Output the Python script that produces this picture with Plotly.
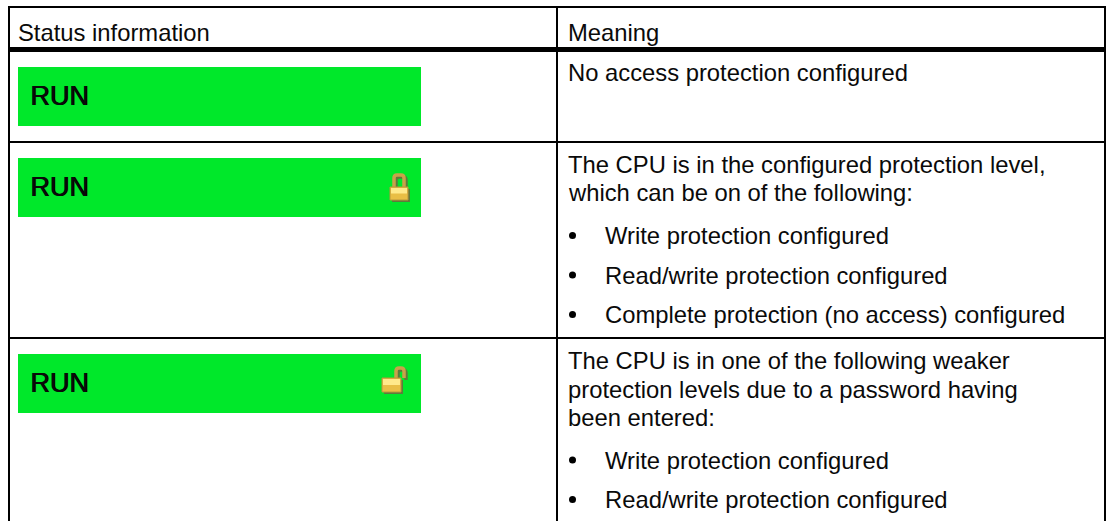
import plotly.graph_objects as go

# ---- content ----
headers = ["Status information", "Meaning"]
status_labels = ["RUN", "RUN", "RUN"]
meaning_lines = [
    "No access protection configured",
    "The CPU is in the configured protection level,",
    "which can be on of the following:",
    "The CPU is in one of the following weaker",
    "protection levels due to a password having",
    "been entered:",
]
bullet_lines = [
    "Write protection configured",
    "Read/write protection configured",
    "Complete protection (no access) configured",
    "Write protection configured",
    "Read/write protection configured",
]

# ---- layout of the table, in image pixels ----
W, H = 1106, 521
GREEN = "#00E82A"
FONT = "Liberation Sans"
BODY = 23.8
left, mid, right = 9, 557, 1105
top, head, row1, row2 = 7, 49.5, 142, 338
green_x = (18, 421)
green_y = [(67, 126), (158, 217), (354, 413)]
run_y = [95.5, 186.5, 382.5]
meaning_y = [72.5, 164.5, 192.5, 360.5, 389.5, 417.5]
bullet_y = [235.5, 275, 314.5, 460, 499.5]
meaning_x, bullet_x, bullet_text_x = 567.5, 572.5, 605

shapes = []


def line(x0, y0, x1, y1, w):
    shapes.append(dict(type="line", x0=x0, y0=y0, x1=x1, y1=y1,
                       line=dict(color="black", width=w)))


for y, w in ((top, 2), (head, 5), (row1, 2), (row2, 2)):
    line(left - 1, y, right + 1, y, w)
for x, w in ((left, 2), (mid, 2), (right, 2)):
    line(x, top, x, H, w)
for y0, y1 in green_y:
    shapes.append(dict(type="rect", x0=green_x[0], x1=green_x[1], y0=y0, y1=y1,
                       fillcolor=GREEN, line_width=0, layer="below"))


def padlock(bx0, by0, bx1, by1, shackle):
    # shadow, shackle, body, highlight
    shapes.append(dict(type="rect", x0=bx0 + 2, x1=bx1 + 2, y0=by0 + 2, y1=by1 + 2,
                       fillcolor="#5E7A3C", line_width=0))
    for off, col, wd in ((2, "#5E7A3C", 3.5), (0, "#C9A24A", 3.5)):
        sx0, sy0, sx1, sy1 = shackle
        shapes.append(dict(
            type="path",
            path=(f"M{sx0+off},{sy1+off} L{sx0+off},{sy0+3+off} Q{sx0+off},{sy0+off} {sx0+3+off},{sy0+off} "
                  f"L{sx1-3+off},{sy0+off} Q{sx1+off},{sy0+off} {sx1+off},{sy0+3+off} L{sx1+off},{sy1+off}"),
            line=dict(color=col, width=wd)))
    shapes.append(dict(type="rect", x0=bx0, x1=bx1, y0=by0, y1=by1,
                       fillcolor="#E9BE45", line=dict(color="#B9963C", width=1)))
    shapes.append(dict(type="rect", x0=bx0 + 1, x1=bx1 - 1, y0=by0 + 1, y1=(by0 + by1) / 2,
                       fillcolor="#FFE98A", line_width=0))


padlock(390, 187, 408, 200, (394, 175, 404, 187))
padlock(382, 378, 401, 392, (396, 368, 404, 378))

annotations = []


def text(x, y, s, size, shadow=None):
    font = dict(family=FONT, size=size, color="#0a0a0a")
    if shadow:
        font["shadow"] = shadow
    annotations.append(dict(x=x, y=y, text=s, showarrow=False, xanchor="left", yanchor="middle",
                            borderpad=0, borderwidth=0, font=font))


text(18, 32.5, headers[0], BODY)
text(meaning_x, 32.5, headers[1], BODY)
for s, y in zip(status_labels, run_y):
    text(30, y, s, 27, "1px 0 0 #000")
for s, y in zip(meaning_lines, meaning_y):
    text(meaning_x, y, s, BODY)
for s, y in zip(bullet_lines, bullet_y):
    text(bullet_text_x, y, s, BODY)

fig = go.Figure(go.Scatter(
    x=[bullet_x] * len(bullet_y), y=bullet_y, mode="markers",
    marker=dict(color="black", size=7), hoverinfo="skip", showlegend=False))
fig.update_layout(
    width=W, height=H, margin=dict(l=0, r=0, t=0, b=0),
    paper_bgcolor="white", plot_bgcolor="white",
    xaxis=dict(range=[0, W], visible=False, fixedrange=True),
    yaxis=dict(range=[H, 0], visible=False, fixedrange=True),
    shapes=shapes, annotations=annotations, showlegend=False,
)
fig.write_html("out.html", config=dict(displayModeBar=False),
               post_script="document.body.style.margin='0';document.body.style.overflow='hidden';")
